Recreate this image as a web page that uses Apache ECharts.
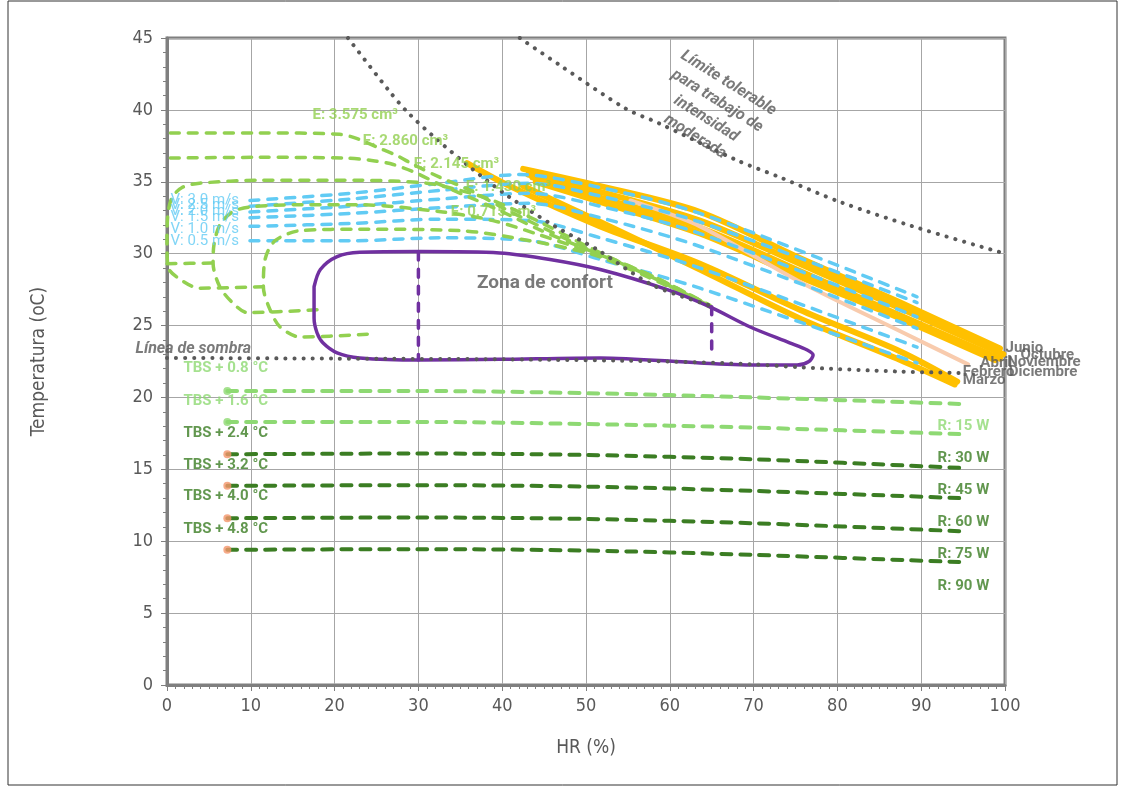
<!DOCTYPE html>
<html>
<head>
<meta charset="utf-8">
<title>Zona de confort</title>
<script src="https://cdn.jsdelivr.net/npm/echarts@6/dist/echarts.min.js"></script>
<style>
  html, body { margin: 0; padding: 0; background: #fff; }
  #chart { width: 1122px; height: 788px; }
</style>
</head>
<body>
<div id="chart"></div>
<script>
// axis ranges
const hrRange = [0, 100, 10]
const tempRange = [0, 45, 5]

// gray dotted lines
const sombra = [[0, 22.75], [20, 22.7], [40, 22.65], [60, 22.5], [70, 22.3], [75.5, 22.1], [87.5, 21.8], [95, 21.7]]
const limiteAlto = [[21.6, 45], [26.4, 41.4], [28.6, 39.9], [31.9, 38.1], [36.2, 36.0], [40.7, 34.0], [46.3, 31.9], [51.3, 30.3], [58.0, 27.8], [64.8, 26.4]]
const limiteModerado = [[42.1, 45], [46.9, 43.1], [54.7, 40.1], [58.6, 39.1], [68.0, 36.5], [73.2, 35.3], [80.3, 33.6], [89.0, 31.9], [100, 30.0]]

// comfort zone
const confort = [[17.55, 27.7], [18.3, 28.9], [20.3, 29.8], [23.0, 30.1], [30.2, 30.15], [39.7, 30.05], [45.7, 29.6], [51.7, 28.9], [59.7, 27.5], [64.8, 26.3], [69.6, 24.9], [74.3, 23.8], [76.4, 23.3], [77.1, 22.95], [76.6, 22.5], [75.2, 22.25], [70.8, 22.25], [63.6, 22.4], [51.7, 22.75], [39.7, 22.65], [30.2, 22.6], [23.0, 22.75], [20.3, 23.1], [18.6, 23.8], [17.9, 24.5], [17.55, 25.5], [17.55, 27.7]]
const corte30 = [[30, 30.1], [30, 22.6]]
const corte65 = [[65, 26.3], [65, 22.8]]

// E curves (light green)
const e3575 = [[0.4, 38.4], [11.1, 38.4], [20.6, 38.3], [22.7, 38.0], [25.1, 37.4], [27.5, 36.8], [29.4, 36.2], [32.6, 35.3], [36.2, 34.4], [39.7, 33.3], [44.5, 31.9], [50.5, 30.25], [54.1, 29.4], [58.8, 28.2], [64.8, 26.4]]
const e2860 = [[0.4, 36.65], [11.1, 36.7], [21.2, 36.65], [24.8, 36.45], [27.0, 36.2], [29.4, 35.7], [32.6, 34.8], [36.2, 33.9], [39.7, 33.0], [44.5, 31.65], [50.5, 30.2], [54.1, 29.35], [58.8, 28.1], [64.8, 26.35]]
const e2145 = [[11.5, 27.7], [3.9, 27.6], [1.6, 28.2], [0.1, 29.1], [0, 30.9], [0.1, 32.7], [0.6, 33.9], [1.8, 34.6], [3.9, 34.9], [11.1, 35.1], [23.0, 35.1], [31.0, 34.9], [35.0, 34.4], [38.9, 33.7], [44.5, 32.2], [50.5, 30.4], [54.1, 29.4], [58.8, 28.2], [64.8, 26.4]]
const e1430 = [[17.9, 26.1], [9.6, 25.9], [7.8, 26.6], [6.3, 27.7], [5.5, 29.35], [5.6, 30.6], [6.3, 32.0], [7.8, 32.9], [9.9, 33.25], [15.9, 33.4], [23.0, 33.4], [32.9, 32.9], [38.9, 32.3], [44.5, 31.3], [50.5, 30.1], [54.1, 29.3], [58.8, 28.1], [64.8, 26.3]]
const e1430b = [[0, 29.3], [5.5, 29.35]]
const e0715 = [[23.9, 24.4], [15.9, 24.2], [13.5, 24.9], [12.3, 26.1], [11.5, 27.7], [11.7, 29.6], [12.9, 30.9], [15.9, 31.6], [23.0, 31.7], [35.0, 31.6], [43.3, 30.9], [50.5, 30.0], [54.1, 29.2], [58.8, 28.0], [64.8, 26.3]]

// V curves (light blue)
const v30 = [[9.9, 33.7], [21.9, 34.2], [32.6, 34.9], [42.1, 35.5], [51.7, 34.6], [63.6, 32.8], [89.5, 27.0]]
const v25 = [[9.9, 33.3], [21.9, 33.8], [32.6, 34.4], [43.3, 34.9], [51.7, 34.0], [63.6, 32.2], [89.5, 26.6]]
const v20 = [[9.9, 32.9], [21.9, 33.3], [32.6, 33.8], [43.3, 34.2], [51.7, 33.3], [63.6, 31.4], [89.5, 25.6]]
const v15 = [[9.9, 32.5], [21.9, 32.8], [32.6, 33.2], [43.3, 33.5], [51.7, 32.5], [63.6, 30.5], [89.5, 24.8]]
const v10 = [[9.9, 31.9], [21.9, 32.1], [32.6, 32.4], [43.3, 32.3], [51.7, 31.1], [63.6, 29.0], [89.5, 23.5]]
const v05 = [[9.9, 30.9], [21.9, 30.9], [32.6, 31.1], [43.3, 30.9], [51.7, 29.6], [63.6, 27.6], [89.5, 22.4]]

// months
const junio = [[42.5, 35.9], [51.7, 34.7], [63.6, 32.9], [75.5, 29.7], [87.5, 26.6], [99.4, 23.4]]
const octubre = [[43.1, 35.5], [51.7, 34.3], [63.6, 32.3], [75.5, 29.3], [87.5, 26.2], [99.8, 23.0]]
const noviembre = [[43.6, 35.3], [51.7, 33.9], [63.6, 31.8], [75.5, 28.8], [87.5, 25.7], [99.4, 22.7]]
const diciembre = [[44.0, 35.0], [51.7, 33.6], [63.6, 31.4], [75.5, 28.4], [87.5, 25.5], [98.8, 22.6]]
const abril = [[55.3, 33.7], [63.6, 31.9], [75.5, 28.05], [87.5, 24.6], [95.6, 22.3]]
const febrero = [[35.8, 36.3], [40.9, 34.7], [51.7, 31.9], [63.6, 29.3], [75.5, 26.1], [87.5, 23.2], [94.3, 21.1]]
const marzo = [[42.5, 34.7], [51.7, 32.2], [63.6, 28.9], [75.5, 25.5], [87.5, 22.6], [94.0, 20.9]]

// TBS lines
const tbs08 = [[7.2, 20.45], [30, 20.45], [50, 20.3], [70, 20.0], [94.6, 19.55]]
const tbs16 = [[7.2, 18.3], [30, 18.3], [50, 18.15], [70, 17.9], [94.6, 17.45]]
const tbs24 = [[7.2, 16.05], [30, 16.1], [50, 16.0], [70, 15.7], [94.6, 15.1]]
const tbs32 = [[7.2, 13.85], [30, 13.9], [50, 13.8], [70, 13.5], [94.6, 13.0]]
const tbs40 = [[7.2, 11.6], [30, 11.65], [50, 11.55], [70, 11.25], [94.6, 10.7]]
const tbs48 = [[7.2, 9.4], [30, 9.45], [50, 9.35], [70, 9.05], [94.6, 8.55]]

// text notes [x, y, text]
const eLabels = [[17.3, 39.65, 'E: 3.575 cm³'], [23.3, 37.8, 'E: 2.860 cm³'], [29.4, 36.2, 'E: 2.145 cm³'], [35.6, 34.6, 'E: 1.430 cm³'], [33.8, 32.85, 'E: 0.715 cm³']]
const vLabels = [[0.36, 33.75, 'V: 3.0 m/s'], [0.36, 33.35, 'V: 2.5 m/s'], [0.36, 32.95, 'V: 2.0 m/s'], [0.36, 32.5, 'V: 1.5 m/s'], [0.36, 31.7, 'V: 1.0 m/s'], [0.36, 30.85, 'V: 0.5 m/s']]
const tbsLightLabels = [[1.9, 22.0, 'TBS + 0.8 °C'], [1.9, 19.75, 'TBS + 1.6 °C']]
const tbsDarkLabels = [[1.9, 17.5, 'TBS + 2.4 °C'], [1.9, 15.3, 'TBS + 3.2 °C'], [1.9, 13.1, 'TBS + 4.0 °C'], [1.9, 10.85, 'TBS + 4.8 °C']]
const rLightLabels = [[91.9, 18.0, 'R: 15 W']]
const rDarkLabels = [[91.9, 15.8, 'R: 30 W'], [91.9, 13.55, 'R: 45 W'], [91.9, 11.35, 'R: 60 W'], [91.9, 9.1, 'R: 75 W'], [91.9, 6.9, 'R: 90 W']]
const monthLabels = [[100.0, 23.45, 'Junio'], [101.8, 22.95, 'Octubre'], [97.0, 22.4, 'Abril'], [100.2, 22.45, 'Noviembre'], [94.9, 21.75, 'Febrero'], [100.4, 21.75, 'Diciembre'], [94.9, 21.2, 'Marzo']]
const grayNotes = [[45.1, 27.95, 'Zona de confort']]
const sombraLabel = [[10.1, 23.4, 'Línea de sombra']]
const limiteLabel = [[65.0, 40.0, 'Límite tolerable\npara trabajo de\nintensidad\nmoderada']]

const FONT = 'Roboto, "Noto Sans", sans-serif'
const AXIS_FONT = '"Liberation Sans Narrow", "DejaVu Sans Condensed", "DejaVu Sans", sans-serif'
const GRAY = '#595959'
const LIGHT_GREEN = '#92D050'
const TBS_LIGHT = '#8ED973'
const DARK_GREEN = '#3B7D23'
const BLUE = '#61CBF4'
const YELLOW = '#FFC000'
const PEACH = '#F8CBAD'
const PURPLE = '#7030A0'
const ORANGE = '#F4956A'

function curve(name, data, color, width, dash, z) {
  return {
    name,
    type: 'line',
    data,
    symbol: 'none',
    smooth: 0.3,
    silent: true,
    z: z || 3,
    lineStyle: { color, width, type: dash || 'solid', cap: 'round', join: 'round' }
  }
}

function notes(data, label) {
  return {
    type: 'scatter',
    data,
    symbolSize: 1,
    itemStyle: { color: 'rgba(0,0,0,0)' },
    clip: false,
    silent: true,
    z: 10,
    label: Object.assign({
      show: true,
      position: 'right',
      distance: 0,
      fontFamily: FONT,
      fontSize: 15,
      fontWeight: 'bold',
      formatter: p => p.data[2]
    }, label)
  }
}

const greenDash = [9, 9]
const blueDash = [9, 9]
const dots = [0.1, 9]

const series = [
  curve('Junio', junio, YELLOW, 6, null, 2),
  curve('Octubre', octubre, YELLOW, 6, null, 2),
  curve('Noviembre', noviembre, YELLOW, 6, null, 2),
  curve('Diciembre', diciembre, YELLOW, 6, null, 2),
  curve('Abril', abril, PEACH, 4, null, 2),
  curve('Febrero', febrero, YELLOW, 6, null, 2),
  curve('Marzo', marzo, YELLOW, 6, null, 2),

  curve('V 3.0', v30, BLUE, 3.5, blueDash),
  curve('V 2.5', v25, BLUE, 3.5, blueDash),
  curve('V 2.0', v20, BLUE, 3.5, blueDash),
  curve('V 1.5', v15, BLUE, 3.5, blueDash),
  curve('V 1.0', v10, BLUE, 3.5, blueDash),
  curve('V 0.5', v05, BLUE, 3.5, blueDash),

  curve('E 3.575', e3575, LIGHT_GREEN, 3.5, greenDash),
  curve('E 2.860', e2860, LIGHT_GREEN, 3.5, greenDash),
  curve('E 2.145', e2145, LIGHT_GREEN, 3.5, greenDash),
  curve('E 1.430', e1430, LIGHT_GREEN, 3.5, greenDash),
  curve('E 1.430', e1430b, LIGHT_GREEN, 3.5, greenDash),
  curve('E 0.715', e0715, LIGHT_GREEN, 3.5, greenDash),

  curve('TBS 0.8', tbs08, TBS_LIGHT, 4, [10, 9]),
  curve('TBS 1.6', tbs16, TBS_LIGHT, 4, [10, 9]),
  curve('TBS 2.4', tbs24, DARK_GREEN, 4, [10, 9]),
  curve('TBS 3.2', tbs32, DARK_GREEN, 4, [10, 9]),
  curve('TBS 4.0', tbs40, DARK_GREEN, 4, [10, 9]),
  curve('TBS 4.8', tbs48, DARK_GREEN, 4, [10, 9]),
  {
    type: 'scatter', silent: true, z: 6, symbolSize: 8,
    data: [tbs08[0], tbs16[0]], itemStyle: { color: TBS_LIGHT }
  },
  {
    type: 'scatter', silent: true, z: 6, symbolSize: 8,
    data: [tbs24[0], tbs32[0], tbs40[0], tbs48[0]], itemStyle: { color: ORANGE }
  },

  curve('Zona de confort', confort, PURPLE, 3.5, null, 4),
  curve('corte 30', corte30, PURPLE, 3.5, [8, 9], 4),
  curve('corte 65', corte65, PURPLE, 3.5, [8, 9], 4),

  curve('Línea de sombra', sombra, GRAY, 4, dots, 5),
  curve('Límite', limiteAlto, GRAY, 4, dots, 5),
  curve('Límite moderado', limiteModerado, GRAY, 4, dots, 5),

  notes(eLabels, { color: LIGHT_GREEN }),
  notes(vLabels, { color: BLUE, fontWeight: 'normal', fontSize: 15 }),
  notes(tbsLightLabels, { color: TBS_LIGHT }),
  notes(tbsDarkLabels, { color: DARK_GREEN }),
  notes(rLightLabels, { color: TBS_LIGHT }),
  notes(rDarkLabels, { color: DARK_GREEN }),
  notes(monthLabels, { color: GRAY }),
  notes(grayNotes, { color: GRAY, fontSize: 19, position: 'inside' }),
  notes(sombraLabel, { color: GRAY, fontStyle: 'italic', fontSize: 16, position: 'left' }),
  notes(limiteLabel, { color: GRAY, fontStyle: 'italic', fontSize: 16, position: 'inside', rotate: -32, align: 'center', lineHeight: 21 })
]

const chart = echarts.init(document.getElementById('chart'))
chart.setOption({
  animation: false,
  backgroundColor: '#fff',
  grid: {
    left: 167, right: 117, top: 38, bottom: 103,
    show: true, borderColor: '#7F7F7F', borderWidth: 3
  },
  graphic: [{
    type: 'rect',
    shape: { x: 8, y: 1, width: 1109, height: 784 },
    style: { fill: 'none', stroke: '#333', lineWidth: 1 }
  }],
  xAxis: {
    type: 'value',
    min: hrRange[0], max: hrRange[1], interval: hrRange[2],
    name: 'HR (%)',
    nameLocation: 'middle',
    nameGap: 54,
    nameTextStyle: { color: GRAY, fontSize: 19, fontFamily: AXIS_FONT },
    axisLine: { show: true, lineStyle: { color: '#7F7F7F', width: 3 } },
    axisTick: { show: true, length: 6, lineStyle: { color: '#7F7F7F' } },
    minorTick: { show: true, splitNumber: 10, length: 4, lineStyle: { color: '#7F7F7F' } },
    splitLine: { show: true, lineStyle: { color: '#A6A6A6', width: 1 } },
    axisLabel: { color: GRAY, fontSize: 18, fontFamily: AXIS_FONT, margin: 12 }
  },
  yAxis: {
    type: 'value',
    min: tempRange[0], max: tempRange[1], interval: tempRange[2],
    name: 'Temperatura (oC)',
    nameLocation: 'middle',
    nameGap: 118,
    nameRotate: 90,
    nameTextStyle: { color: GRAY, fontSize: 19, fontFamily: AXIS_FONT },
    axisLine: { show: true, lineStyle: { color: '#7F7F7F', width: 3 } },
    axisTick: { show: true, length: 6, lineStyle: { color: '#7F7F7F' } },
    minorTick: { show: true, splitNumber: 5, length: 4, lineStyle: { color: '#7F7F7F' } },
    splitLine: { show: true, lineStyle: { color: '#A6A6A6', width: 1 } },
    axisLabel: { color: GRAY, fontSize: 18, fontFamily: AXIS_FONT, margin: 14 }
  },
  series
})
</script>
</body>
</html>
